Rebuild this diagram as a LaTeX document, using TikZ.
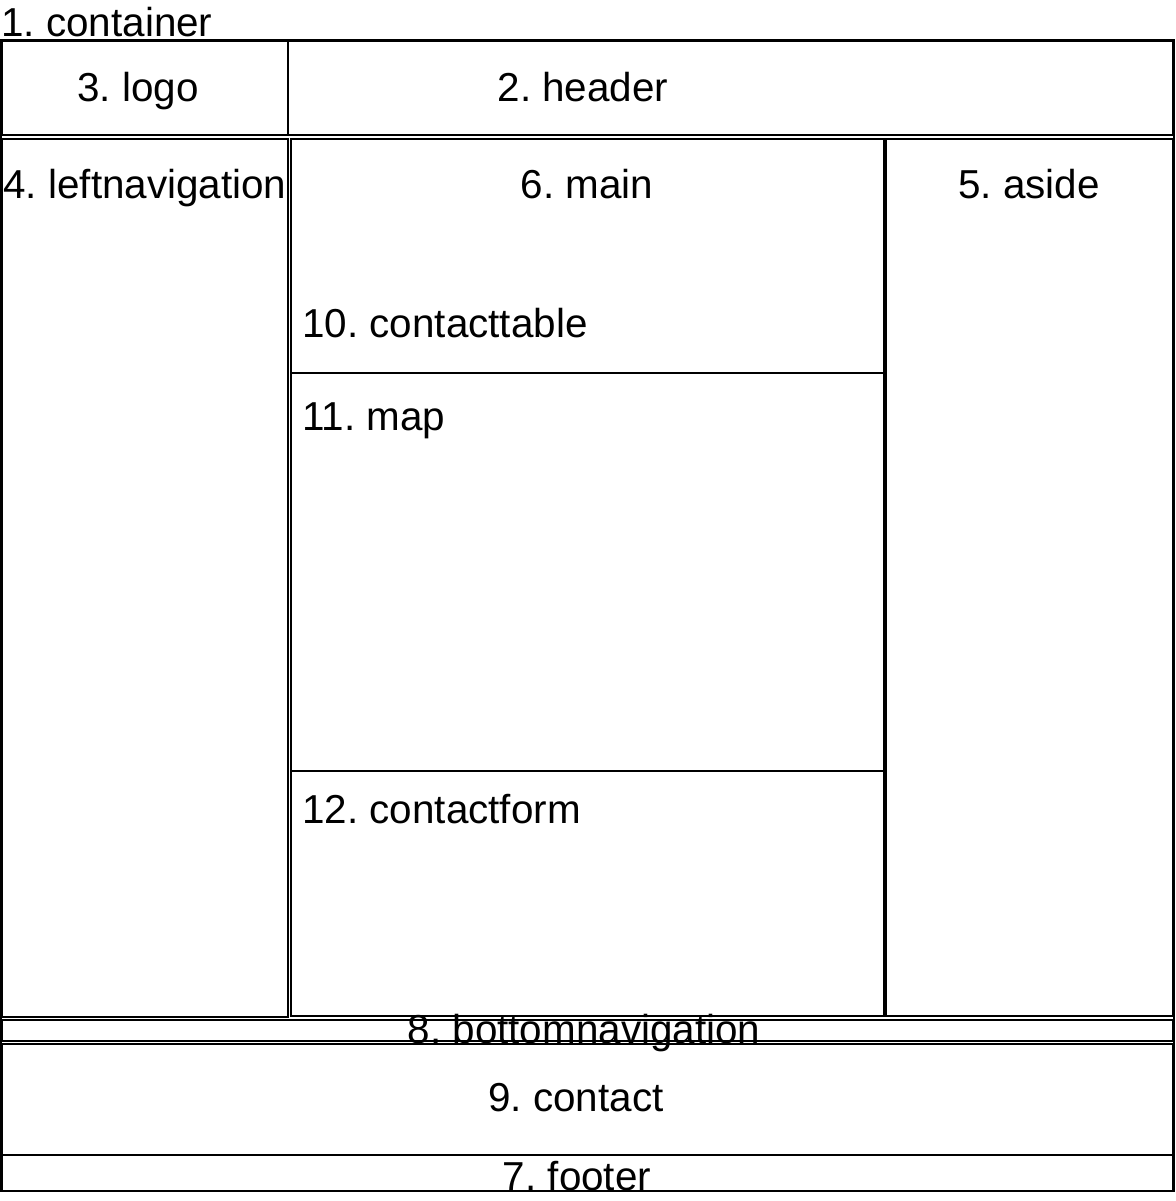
\documentclass[tikz,border=0pt]{standalone}
\usepackage{fontspec}
\setmainfont{Liberation Sans}
\usetikzlibrary{positioning}
\frenchspacing

\begin{document}
\begin{tikzpicture}[
        x=0.02cm, y=-0.02cm,
        frame/.style={draw, line width=1.1pt},
        lbl/.style={font=\fontsize{23}{27}\selectfont, inner sep=0pt},
      ]
      \useasboundingbox (0,0) rectangle (1176,1201);
      % outer container and the page blocks
      \draw[frame] (1,40) rectangle (1174,1191);
      \draw[frame] (2,41) rectangle (1173,135);      % header
      \draw[frame] (2,41) rectangle (288,135);       % logo
      \draw[frame] (2,139) rectangle (288,1017);     % leftnavigation
      \draw[frame] (291,139) rectangle (884,1016);   % main
      \draw[frame] (291,139) rectangle (884,373);    % contacttable
      \draw[frame] (291,373) rectangle (884,771);    % map
      \draw[frame] (291,771) rectangle (884,1016);   % contactform
      \draw[frame] (886,139) rectangle (1173,1016);  % aside
      \draw[frame] (2,1020) rectangle (1173,1041);   % bottomnavigation
      \draw[frame] (2,1044) rectangle (1173,1155);   % contact
      \draw[frame] (2,1155) rectangle (1173,1191);   % footer

      \node[lbl, anchor=base west] (container) at (1,36) {1. container};
      \node[lbl, anchor=base] (header) at (583,101) {2. header};
      \node[lbl, anchor=base] (logo) at (138,101) {3. logo};
      \node[lbl, anchor=base] (leftnav) at (145,198) {4. leftnavigation};
      \node[lbl, anchor=base] (aside) at (1029,198) {5. aside};
      \node[lbl, anchor=base] (main) at (587,198) {6. main};
      \node[lbl, anchor=base west] (contacttable) at (302,337) {10. contacttable};
      \node[lbl, anchor=base west] (map) at (302,430) {11. map};
      \node[lbl, anchor=base west] (contactform) at (302,823) {12. contactform};
      \node[lbl, anchor=base] (bottomnav) at (584,1043) {8. bottomnavigation};
      \node[lbl, anchor=base] (contact) at (576,1111) {9. contact};
      \node[lbl, anchor=base] (footer) at (577,1190) {7. footer};
    \end{tikzpicture}
\end{document}
